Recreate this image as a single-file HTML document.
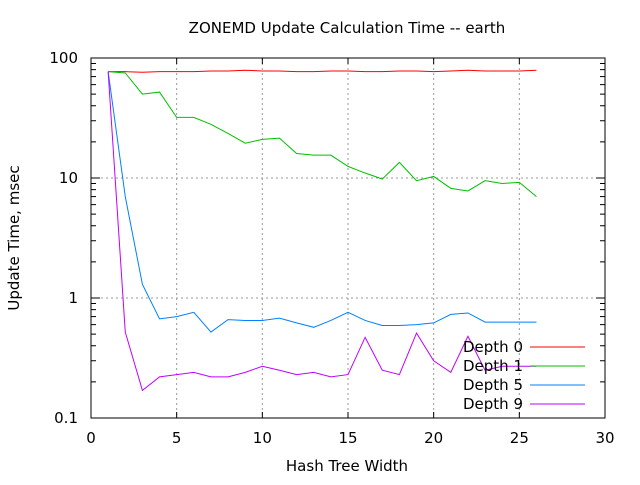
<!DOCTYPE html>
<html><head><meta charset="utf-8"><style>
body{margin:0;background:#fff;}
svg text{font-family:"DejaVu Sans","Liberation Sans",sans-serif;font-size:15px;fill:#000;}
</style></head><body>
<svg id="chart" width="640" height="480" xmlns="http://www.w3.org/2000/svg">
<rect width="640" height="480" fill="#fff"/>
<text x="347" y="33" text-anchor="middle">ZONEMD Update Calculation Time -- earth</text>
<text x="347" y="471" text-anchor="middle">Hash Tree Width</text>
<text transform="translate(19,238) rotate(-90)" text-anchor="middle">Update Time, msec</text>
<g id="grid"></g><g id="axes"></g><g id="series"></g><g id="legend"></g>
</svg>
<script>
const xs=[1,2,3,4,5,6,7,8,9,10,11,12,13,14,15,16,17,18,19,20,21,22,23,24,25,26];
const depth0=[77,77,76,77,77,77,78,78,79,78,78,77,77,78,78,77,77,78,78,77,78,79,78,78,78,79];
const depth1=[77,75,50,52,32,32,28,23.5,19.5,21,21.5,16,15.5,15.5,12.5,11,9.8,13.5,9.5,10.3,8.2,7.8,9.5,9,9.2,7];
const depth5=[77,7,1.3,0.67,0.7,0.76,0.52,0.66,0.65,0.65,0.68,0.62,0.57,0.65,0.76,0.65,0.59,0.59,0.6,0.62,0.73,0.75,0.63,0.63,0.63,0.63];
const depth9=[77,0.52,0.17,0.22,0.23,0.24,0.22,0.22,0.24,0.27,0.25,0.23,0.24,0.22,0.23,0.47,0.25,0.23,0.51,0.3,0.24,0.48,0.25,0.27,0.27,0.27];
const xTicks=[0,5,10,15,20,25,30];
const yTicks=[0.1,1,10,100];
const yTickLabels=["0.1","1","10","100"];
const seriesNames=["Depth 0","Depth 1","Depth 5","Depth 9"];
const L=91,R=605,T=58,B=418;
const X=v=>L+(v/30)*(R-L);
const Y=v=>B-(Math.log10(v)+1)/3*(B-T);
const NS="http://www.w3.org/2000/svg";
function mk(p,t,a){const e=document.createElementNS(NS,t);for(const k in a)e.setAttribute(k,a[k]);p.appendChild(e);return e;}
const grid=document.getElementById('grid'),axes=document.getElementById('axes'),ser=document.getElementById('series'),leg=document.getElementById('legend');
xTicks.forEach(t=>{
 if(t>0&&t<30){const g=mk(grid,'line',{x1:X(t),x2:X(t),y1:T,y2:B,stroke:'#999','stroke-dasharray':'2,3'});
 
 }
 mk(axes,'line',{x1:X(t),x2:X(t),y1:B,y2:B-6,stroke:'#000'});
 mk(axes,'line',{x1:X(t),x2:X(t),y1:T,y2:T+6,stroke:'#000'});
 const tx=mk(axes,'text',{x:X(t),y:B+25,'text-anchor':'middle'});tx.textContent=t;
 
 
});
yTicks.forEach((t,i)=>{
 if(i>0&&i<3){const g=mk(grid,'line',{x1:L,x2:R,y1:Y(t),y2:Y(t),stroke:'#999','stroke-dasharray':'2,3'});
 
 }
 mk(axes,'line',{x1:L,x2:L+9,y1:Y(t),y2:Y(t),stroke:'#000'});
 mk(axes,'line',{x1:R,x2:R-9,y1:Y(t),y2:Y(t),stroke:'#000'});
 const tx=mk(axes,'text',{x:L-13,y:Y(t)+5,'text-anchor':'end'});tx.textContent=yTickLabels[i];
 
 
 if(i<3)for(let m=2;m<10;m++){const v=t*m;
  mk(axes,'line',{x1:L,x2:L+5,y1:Y(v),y2:Y(v),stroke:'#000'});
  mk(axes,'line',{x1:R,x2:R-5,y1:Y(v),y2:Y(v),stroke:'#000'});}
});
const fr=mk(axes,'rect',{x:L,y:T,width:R-L,height:B-T,fill:'none',stroke:'#000'});


const data=[depth0,depth1,depth5,depth9],cols=['#ff0000','#00c000','#0080ff','#c000ff'];
data.forEach((d,i)=>{
 const pl=mk(ser,'polyline',{points:d.map((v,j)=>X(xs[j])+','+Y(v)).join(' '),fill:'none',stroke:cols[i],'stroke-width':1});
 
 
 const ly=347+i*19;
 const t=mk(leg,'text',{x:523,y:ly+5,'text-anchor':'end'});t.textContent=seriesNames[i];
 
 
 const ln=mk(leg,'line',{x1:530,x2:585,y1:ly,y2:ly,stroke:cols[i]});
 
 
});
</script>
</body></html>
